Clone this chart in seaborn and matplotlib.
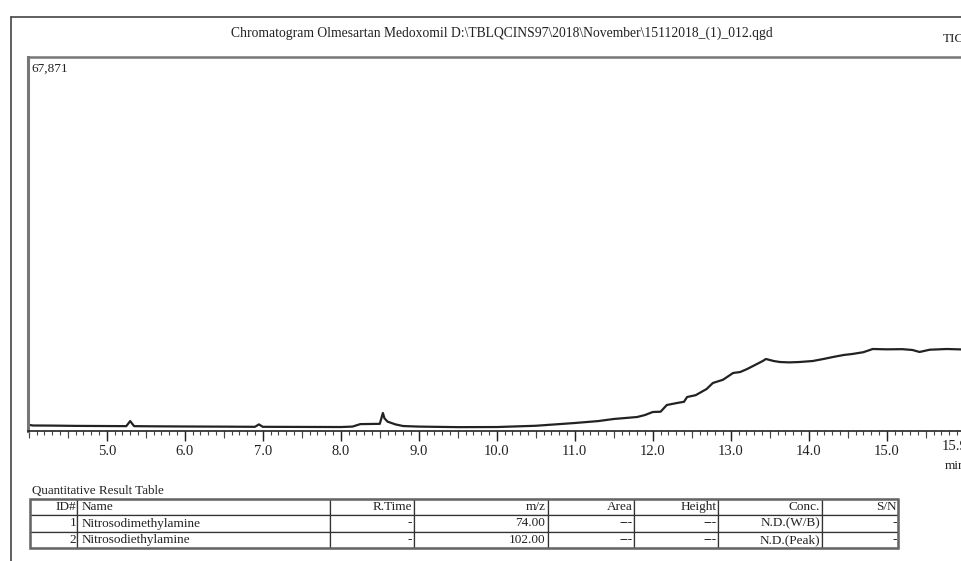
import matplotlib
matplotlib.use("Agg")
import matplotlib.pyplot as plt
from matplotlib.lines import Line2D
from matplotlib.ticker import MultipleLocator, FixedLocator, NullFormatter
import pandas as pd
import seaborn as sns

# TIC trace (retention time in min, intensity in counts)
rt_min = [3.99, 4.05, 4.3, 4.6, 5.0, 5.25, 5.3, 5.35, 5.6, 6.0, 6.5, 6.9, 6.95,
          7.0, 7.5, 8.0, 8.15, 8.25, 8.5, 8.54, 8.56, 8.6, 8.7, 8.8, 9.0, 9.5,
          10.0, 10.5, 11.0, 11.3, 11.5, 11.8, 11.9, 12.0, 12.1, 12.18, 12.31,
          12.4, 12.44, 12.55, 12.69, 12.77, 12.9, 13.03, 13.12, 13.21, 13.41,
          13.45, 13.55, 13.63, 13.75, 13.88, 14.05, 14.2, 14.31, 14.45, 14.56,
          14.7, 14.82, 15.0, 15.2, 15.33, 15.42, 15.55, 15.77, 15.96]
intensity = [1150, 1000, 980, 930, 900, 880, 1800, 880, 850, 820, 790, 760,
             1200, 760, 740, 720, 800, 1250, 1300, 3270, 2300, 1700, 1200,
             900, 800, 700, 720, 950, 1450, 1800, 2180, 2540, 2900, 3450, 3500,
             4720, 5080, 5300, 6170, 6500, 7620, 8710, 9300, 10530, 10700,
             11250, 12700, 13070, 12700, 12520, 12450, 12520, 12700, 13100,
             13430, 13800, 13980, 14300, 14880, 14820, 14850, 14700, 14340,
             14750, 14880, 14800]

y_max = 67871
major_ticks = [5.0, 6.0, 7.0, 8.0, 9.0, 10.0, 11.0, 12.0, 13.0, 14.0, 15.0]
tick_labels = ["5.0", "6.0", "7.0", "8.0", "9.0", "10.0", "11.0", "12.0",
               "13.0", "14.0", "15.0"]
end_label_pos = 15.87
end_label = "15.9"

title = ("Chromatogram Olmesartan Medoxomil "
         "D:\\TBLQCINS97\\2018\\November\\15112018_(1)_012.qgd")

col_labels = ["ID#", "Name", "R.Time", "m/z", "Area", "Height", "Conc.", "S/N"]
row1 = ["1", "Nitrosodimethylamine", "-", "74.00", "---", "---", "N.D.(W/B)", "-"]
row2 = ["2", "Nitrosodiethylamine", "-", "102.00", "---", "---", "N.D.(Peak)", "-"]
col_px = [47, 253, 84, 134, 86, 84, 104, 76]

sns.set_theme(style="white")
plt.rcParams['font.family'] = ['Liberation Serif', 'DejaVu Serif']
ink = "#222222"

W, H = 962, 561
fig = plt.figure(figsize=(W / 100, H / 100), dpi=100)
fig.patch.set_facecolor("white")

# outer page frame
fig.add_artist(Line2D([10.5 / W, 10.5 / W], [0, 1 - 17 / H], color="#444444", lw=1.2))
fig.add_artist(Line2D([10.5 / W, 1], [1 - 17 / H, 1 - 17 / H], color="#444444", lw=1.2))

# chromatogram axes
ax = fig.add_axes([28 / W, 1 - 431 / H, 934 / W, 374 / H])
df = pd.DataFrame({"rt": rt_min, "tic": intensity})
sns.lineplot(data=df, x="rt", y="tic", ax=ax, color=ink, lw=1.6, estimator=None)
ax.set_xlim(3.99, 3.99 + 934 / 78)
ax.set_ylim(0, y_max)
ax.set_xlabel("")
ax.set_ylabel("")
ax.set_yticks([])
ax.set_facecolor("white")

ax.spines["right"].set_visible(False)
ax.spines["left"].set_color("#777777")
ax.spines["left"].set_linewidth(2.2)
ax.spines["top"].set_color("#777777")
ax.spines["top"].set_linewidth(1.8)
ax.spines["bottom"].set_color(ink)
ax.spines["bottom"].set_linewidth(1.2)

ax.xaxis.set_major_locator(FixedLocator(major_ticks))
ax.set_xticklabels(tick_labels)
ax.xaxis.set_minor_locator(MultipleLocator(0.1))
ax.tick_params(axis="x", which="major", direction="out", length=7, width=1,
               color=ink, labelsize=10.5, labelcolor=ink, pad=3, bottom=True)
ax.tick_params(axis="x", which="minor", direction="out", length=3, width=0.8,
               color="#444444", bottom=True)

# half-minute ticks
sec = ax.secondary_xaxis("bottom")
sec.xaxis.set_major_locator(MultipleLocator(0.5))
sec.xaxis.set_major_formatter(NullFormatter())
sec.tick_params(axis="x", length=5, width=0.8, color="#444444")
sec.spines["bottom"].set_visible(False)

ax.text(end_label_pos, -0.024, end_label, transform=ax.get_xaxis_transform(),
        ha="center", va="top", fontsize=10.5, color=ink, clip_on=False)
ax.text(0.004, 0.985, f"{y_max:,}", transform=ax.transAxes, ha="left", va="top",
        fontsize=9.5, color=ink)

fig.text(502 / W, 1 - 33 / H, title, ha="center", va="center", fontsize=9.8, color=ink)
fig.text(943 / W, 1 - 39 / H, "TIC", ha="left", va="center", fontsize=9.5, color=ink)
fig.text(945 / W, 1 - 466 / H, "min", ha="left", va="center", fontsize=9.5, color=ink)

# quantitative result table
fig.text(32 / W, 1 - 491 / H, "Quantitative Result Table", ha="left", va="center",
         fontsize=9.4, color=ink)
tax = fig.add_axes([30 / W, 13 / H, 868 / W, 49 / H])
tax.axis("off")
total = sum(col_px)
tbl = tax.table(cellText=[row1, row2], colLabels=col_labels,
                colWidths=[c / total for c in col_px], cellLoc="right",
                colLoc="right", bbox=[0, 0, 1, 1])
tbl.auto_set_font_size(False)
tbl.set_fontsize(9.5)
for (r, c), cell in tbl.get_celld().items():
    cell.set_edgecolor("#333333")
    cell.set_linewidth(0.9)
    cell.get_text().set_color(ink)
    cell.PAD = 0.02
    if c == 1:
        cell._loc = "left"
        cell.get_text().set_ha("left")
tax.add_patch(plt.Rectangle((0, 0), 1, 1, transform=tax.transAxes, fill=False,
                            edgecolor="#666666", lw=1.8, clip_on=False))

fig.savefig("out.png", dpi=100, facecolor="white")
